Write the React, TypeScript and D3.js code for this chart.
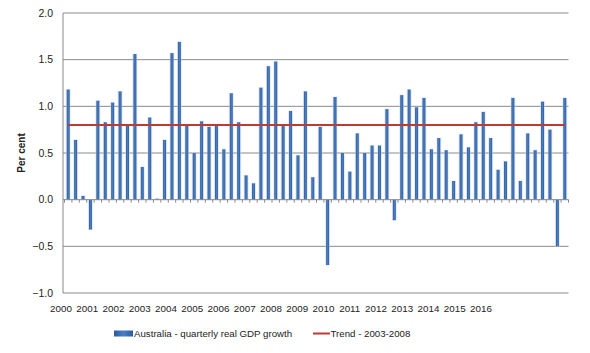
import { useMemo } from "react";
import * as d3 from "d3";

// quarterly real GDP growth, per cent, 2000Q1 .. 2016Q4
const years = [
  "2000", "2001", "2002", "2003", "2004", "2005", "2006", "2007", "2008",
  "2009", "2010", "2011", "2012", "2013", "2014", "2015", "2016",
];

const growth = [
  1.18, 0.64, 0.04, -0.32,
  1.06, 0.83, 1.04, 1.16,
  0.79, 1.56, 0.35, 0.88,
  0.01, 0.64, 1.57, 1.69,
  0.79, 0.5, 0.84, 0.78,
  0.79, 0.54, 1.14, 0.83,
  0.26, 0.175, 1.2, 1.43,
  1.48, 0.79, 0.95, 0.475,
  1.16, 0.24, 0.78, -0.7,
  1.1, 0.5, 0.3, 0.71,
  0.5, 0.58, 0.58, 0.97,
  -0.22, 1.12, 1.18, 0.99,
  1.09, 0.54, 0.66, 0.53,
  0.2, 0.7, 0.56, 0.83,
  0.94, 0.66, 0.32, 0.41,
  1.09, 0.2, 0.71, 0.53,
  1.05, 0.75, -0.5, 1.09,
];

const trendValue = 0.8;
const yTicks = [-1, -0.5, 0, 0.5, 1, 1.5, 2];

const seriesLabel = "Australia - quarterly real GDP growth";
const trendLabel = "Trend - 2003-2008";

const quarters = growth.map((_, i) => `${years[Math.floor(i / 4)]}Q${(i % 4) + 1}`);

const width = 590;
const height = 353;
const font = "'Liberation Sans', Arial, sans-serif";

export default function App() {
  const xScale = useMemo(
    () =>
      d3
        .scaleBand<string>()
        .domain(quarters)
        .range([64.5, 568.5])
        .paddingInner(0.6)
        .paddingOuter(0.3),
    []
  );

  const yScale = useMemo(
    () => d3.scaleLinear().domain([-1, 2]).range([293, 13]),
    []
  );

  // year labels sit evenly under the axis, as in the original
  const yearScale = useMemo(
    () => d3.scalePoint<string>().domain(years).range([61, 481]),
    []
  );

  const step = xScale.step();
  const r0 = xScale.range()[0];
  const zero = yScale(0);
  const first = xScale(quarters[0])! + xScale.bandwidth() / 2;
  const last = xScale(quarters[quarters.length - 1])! + xScale.bandwidth() / 2;

  return (
    <svg
      width={width}
      height={height}
      style={{ position: "absolute", left: 0, top: 0, background: "#fff" }}
      fontFamily={font}
    >
      <defs>
        <linearGradient id="barGrad" x1="0" x2="1" y1="0" y2="0">
          <stop offset="0" stopColor="#2d5b9a" />
          <stop offset="0.5" stopColor="#4a7ec4" />
          <stop offset="1" stopColor="#2d5b9a" />
        </linearGradient>
      </defs>

      {/* gridlines */}
      {yTicks
        .filter((t) => t !== 0)
        .map((t) => (
          <line
            key={t}
            x1={63}
            x2={568.5}
            y1={yScale(t)}
            y2={yScale(t)}
            stroke="#8a8a8a"
            strokeWidth={1}
          />
        ))}

      {/* y axis */}
      <line x1={63} x2={63} y1={yScale(2)} y2={yScale(-1)} stroke="#8a8a8a" />
      {yTicks.map((t) => (
        <text
          key={t}
          x={53}
          y={yScale(t)}
          dy="0.35em"
          textAnchor="end"
          fontSize={10.5}
          fill="#222"
        >
          {d3.format(".1f")(t)}
        </text>
      ))}
      <text
        transform={`translate(25,${yScale(0.5)}) rotate(-90)`}
        textAnchor="middle"
        fontSize={10}
        fontWeight="bold"
        fill="#222"
      >
        Per cent
      </text>

      {/* bars */}
      {growth.map((v, i) => {
        const x = xScale(quarters[i])!;
        const y0 = Math.min(yScale(v), zero);
        const h = Math.abs(yScale(v) - zero);
        return (
          <g key={quarters[i]}>
            <rect
              x={x - 1}
              y={y0 - 0.5}
              width={xScale.bandwidth() + 2}
              height={h + 1}
              fill="#c9d8ee"
              opacity={0.55}
            />
            <rect x={x} y={y0} width={xScale.bandwidth()} height={h} fill="url(#barGrad)" />
          </g>
        );
      })}

      {/* category axis at zero */}
      <line x1={63} x2={568.5} y1={zero} y2={zero} stroke="#8a8a8a" />
      {d3.range(quarters.length + 1).map((i) => (
        <line
          key={i}
          x1={r0 + i * step}
          x2={r0 + i * step}
          y1={zero}
          y2={zero + 3}
          stroke="#8a8a8a"
        />
      ))}

      {/* trend */}
      <line
        x1={first}
        x2={last}
        y1={yScale(trendValue)}
        y2={yScale(trendValue)}
        stroke="#be3a34"
        strokeWidth={2}
      />

      {/* year labels */}
      {years.map((yr) => (
        <text
          key={yr}
          x={yearScale(yr)}
          y={311.5}
          textAnchor="middle"
          fontSize={9.8}
          fill="#222"
        >
          {yr}
        </text>
      ))}

      {/* legend */}
      <rect x={114} y={330.5} width={19} height={6} fill="url(#barGrad)" />
      <text x={134} y={336.5} fontSize={9.7} fill="#222">
        {seriesLabel}
      </text>
      <line x1={313} x2={330} y1={333.5} y2={333.5} stroke="#be3a34" strokeWidth={2} />
      <text x={330.5} y={336.5} fontSize={9.7} fill="#222">
        {trendLabel}
      </text>
    </svg>
  );
}
